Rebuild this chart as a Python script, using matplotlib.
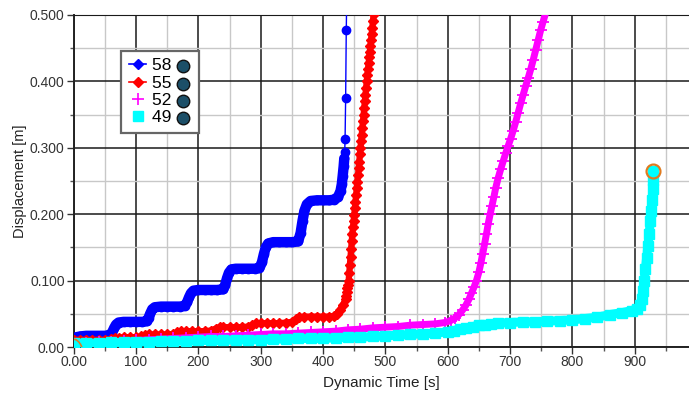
import matplotlib
matplotlib.use("Agg")
import matplotlib.pyplot as plt
from matplotlib.ticker import MultipleLocator, FuncFormatter

# ---------------- data ----------------
t58 = [0, 10, 20, 30, 40, 50, 58, 62, 65, 68, 72, 80, 90, 100, 110, 117, 120, 123, 126, 130,
       140, 150, 160, 170, 178, 182, 185, 188, 192, 200, 210, 220, 230, 240, 243, 246, 249, 253,
       260, 270, 280, 290, 298, 302, 305, 308, 312, 320, 330, 340, 350, 360, 364, 367, 370, 374,
       380, 390, 400, 410, 418, 424, 428, 430, 431.5, 433, 434, 434.7, 435.3, 436.2, 437.2, 438.5]
d58 = [0.014, 0.016, 0.017, 0.017, 0.017, 0.017, 0.018, 0.023, 0.029, 0.034, 0.037, 0.038, 0.038,
       0.038, 0.038, 0.039, 0.044, 0.051, 0.057, 0.060, 0.061, 0.061, 0.061, 0.061, 0.062, 0.068,
       0.075, 0.081, 0.085, 0.086, 0.086, 0.086, 0.086, 0.087, 0.094, 0.104, 0.112, 0.117, 0.118,
       0.118, 0.118, 0.118, 0.119, 0.128, 0.140, 0.150, 0.156, 0.158, 0.158, 0.158, 0.158, 0.159,
       0.172, 0.190, 0.205, 0.215, 0.220, 0.221, 0.221, 0.221, 0.222, 0.226, 0.235, 0.245, 0.258,
       0.272, 0.284, 0.293, 0.314, 0.375, 0.477, 0.560]

t55 = [0, 10, 20, 30, 40, 50, 60, 66, 72, 80, 90, 100, 108, 114, 120, 130, 140, 150, 160, 166,
       172, 180, 190, 200, 210, 220, 228, 234, 240, 250, 260, 270, 280, 286, 292, 300, 310, 320,
       330, 340, 350, 356, 362, 370, 380, 390, 400, 410, 418, 422, 427, 432, 436, 437, 438, 439,
       440, 441, 442, 443, 444, 445, 446, 447, 448, 449, 450, 451, 452, 453, 454, 455, 456, 457,
       458, 459, 460, 461, 462, 463, 464, 465, 466, 467, 468, 469, 470, 471, 472, 473, 474, 475,
       476, 477, 478, 479, 480, 481]
d55 = [0.011, 0.011, 0.011, 0.011, 0.011, 0.011, 0.012, 0.013, 0.014, 0.015, 0.015, 0.015, 0.016,
       0.018, 0.019, 0.019, 0.019, 0.019, 0.020, 0.022, 0.024, 0.024, 0.024, 0.024, 0.024, 0.025,
       0.028, 0.030, 0.030, 0.030, 0.030, 0.030, 0.031, 0.033, 0.036, 0.036, 0.036, 0.036, 0.036,
       0.037, 0.038, 0.042, 0.045, 0.046, 0.046, 0.046, 0.046, 0.046, 0.047, 0.050, 0.056, 0.064,
       0.072, 0.077, 0.083, 0.089, 0.094, 0.100, 0.112, 0.124, 0.136, 0.148, 0.160, 0.171, 0.181,
       0.190, 0.199, 0.209, 0.219, 0.229, 0.239, 0.249, 0.259, 0.269, 0.279, 0.290, 0.300, 0.310,
       0.320, 0.330, 0.340, 0.350, 0.360, 0.370, 0.380, 0.390, 0.400, 0.409, 0.418, 0.427, 0.436,
       0.445, 0.454, 0.463, 0.472, 0.481, 0.491, 0.501]

t52 = [0, 20, 40, 60, 80, 100, 120, 140, 160, 180, 200, 220, 240, 260, 280, 300, 320, 340, 360,
       380, 400, 420, 440, 460, 480, 500, 520, 540, 560, 580, 595, 605, 612, 618, 624, 629, 634,
       638, 642, 646, 650, 653, 656, 659, 662, 665, 668, 671, 674, 677, 681, 685, 689, 693, 697,
       701, 705, 709, 713, 717, 721, 725, 729, 733, 737, 741, 745, 749, 753, 757]
d52 = [0.005, 0.006, 0.007, 0.008, 0.009, 0.010, 0.011, 0.012, 0.013, 0.014, 0.015, 0.016, 0.016,
       0.017, 0.018, 0.019, 0.020, 0.020, 0.021, 0.022, 0.023, 0.024, 0.026, 0.027, 0.029, 0.030,
       0.031, 0.033, 0.034, 0.035, 0.037, 0.040, 0.044, 0.049, 0.056, 0.063, 0.072, 0.081, 0.090,
       0.100, 0.113, 0.126, 0.140, 0.155, 0.170, 0.186, 0.200, 0.213, 0.226, 0.240, 0.255, 0.268,
       0.280, 0.292, 0.303, 0.314, 0.326, 0.339, 0.353, 0.367, 0.380, 0.393, 0.405, 0.418, 0.432,
       0.447, 0.462, 0.477, 0.490, 0.503]

t49 = [0, 20, 40, 60, 80, 100, 120, 140, 160, 180, 200, 220, 240, 260, 280, 300, 320, 340, 360,
       380, 400, 420, 440, 460, 480, 500, 520, 540, 560, 580, 600, 610, 620, 630, 640, 650, 660,
       670, 680, 700, 720, 740, 760, 780, 800, 820, 840, 860, 880, 895, 903, 908, 911, 913, 915,
       917, 919, 921, 923, 925, 926.5, 928, 929, 929.5, 930]
d49 = [0.006, 0.006, 0.006, 0.007, 0.007, 0.008, 0.008, 0.009, 0.009, 0.009, 0.010, 0.010, 0.010,
       0.011, 0.011, 0.011, 0.012, 0.012, 0.013, 0.013, 0.013, 0.014, 0.015, 0.015, 0.016, 0.017,
       0.018, 0.019, 0.020, 0.021, 0.023, 0.025, 0.027, 0.029, 0.031, 0.033, 0.034, 0.035, 0.036,
       0.037, 0.038, 0.038, 0.039, 0.040, 0.041, 0.043, 0.045, 0.049, 0.052, 0.055, 0.058, 0.063,
       0.072, 0.085, 0.100, 0.117, 0.134, 0.152, 0.170, 0.190, 0.205, 0.222, 0.238, 0.252, 0.265]

t_orange = [0, 4, 8, 11, 13]
d_orange = [0.012, 0.011, 0.008, 0.004, 0.0]

end_t = [930]
end_d = [0.265]

labels = ["58", "55", "52", "49"]
xlabel = "Dynamic Time [s]"
ylabel = "Displacement [m]"

# ---------------- figure ----------------
plt.rcParams['font.family'] = ['Liberation Sans', 'DejaVu Sans']
fig = plt.figure(figsize=(6.89, 3.94), dpi=100)
ax = fig.add_axes([0.107, 0.119, 0.893, 0.843])

ax.set_axisbelow(True)
ax.xaxis.set_major_locator(MultipleLocator(100))
ax.xaxis.set_minor_locator(MultipleLocator(50))
ax.yaxis.set_major_locator(MultipleLocator(0.1))
ax.yaxis.set_minor_locator(MultipleLocator(0.05))
ax.grid(which='minor', color='#c8c8c8', lw=1.0)
ax.grid(which='major', color='#1a1a1a', lw=1.1)

blue, red, mag, cyan = '#0000ff', '#ff0000', '#ff00ff', '#00ffff'

# 58 (blue)
n_dense = sum(1 for v in d58 if v <= 0.29)
ax.plot(t58[:n_dense], d58[:n_dense], color=blue, lw=7.5, solid_capstyle='round',
        solid_joinstyle='round', zorder=3)
ax.plot(t58, d58, color=blue, lw=1.0, marker='o', ms=6, zorder=3)
# 55 (red)
ax.plot(t55, d55, color=red, lw=4.5, solid_joinstyle='round', zorder=4)
ax.plot(t55, d55, color=red, lw=1.0, marker='D', ms=5, ls='none', zorder=4)
# 52 (magenta)
ax.plot(t52, d52, color=mag, lw=5.0, solid_joinstyle='round', zorder=5)
ax.plot(t52, d52, color=mag, lw=0, marker='+', ms=8, mew=1.3, zorder=5)
# 49 (cyan)
ax.plot(t49, d49, color=cyan, lw=6.5, solid_joinstyle='miter', zorder=6)
ax.plot(t49, d49, color=cyan, lw=0, marker='s', ms=6.5, zorder=6)

ax.plot(t_orange, d_orange, color='#e07b20', lw=1.2, zorder=7)
ax.plot(end_t, end_d, marker='o', ms=10, mfc='none', mec='#e07b20', mew=1.6, ls='none', zorder=8)

ax.set_xlim(0, 987)
ax.set_ylim(0, 0.5)

def yfmt(v, p):
    return "0.00" if abs(v) < 1e-9 else f"{v:.3f}"

def xfmt(v, p):
    return "0.00" if abs(v) < 1e-9 else f"{int(round(v))}"

ax.yaxis.set_major_formatter(FuncFormatter(yfmt))
ax.xaxis.set_major_formatter(FuncFormatter(xfmt))
ax.tick_params(which='major', direction='out', length=5, width=1, colors='#333333',
               labelsize=10, labelcolor='#333333')
ax.tick_params(axis='y', which='major', pad=1.5)
ax.tick_params(axis='x', which='major', pad=1.0)
ax.tick_params(which='minor', direction='out', length=3, width=1, colors='#555555')
ax.spines['right'].set_visible(False)
ax.spines['top'].set_color('#1a1a1a')
for s in ['left', 'bottom']:
    ax.spines[s].set_color('#222222')
    ax.spines[s].set_linewidth(1.4)

ax.set_xlabel(xlabel, fontsize=11, color='#222222', labelpad=5)
ax.set_ylabel(ylabel, fontsize=10.5, color='#222222', labelpad=2)

# legend
h = [
    plt.Line2D([], [], color=blue, marker='D', ms=5.5, lw=1.2),
    plt.Line2D([], [], color=red, marker='D', ms=5.5, lw=1.2),
    plt.Line2D([], [], color=mag, marker='+', ms=9, mew=1.2, lw=0),
    plt.Line2D([], [], color=cyan, marker='s', ms=7, lw=0),
]
leg = ax.legend(h, [l + "    " for l in labels], loc='upper left',
                bbox_to_anchor=(0.077, 0.893), fontsize=12.5, labelspacing=0.12,
                handlelength=1.0, handletextpad=0.35, borderpad=0.45, borderaxespad=0,
                fancybox=False, framealpha=1, edgecolor='#666666')
leg.get_frame().set_linewidth(1.6)
leg.set_zorder(20)

fig.canvas.draw()
inv = ax.transAxes.inverted()
for txt, lab in zip(leg.get_texts(), labels):
    bb = txt.get_window_extent()
    x_disp = bb.x0 + 31
    y_disp = (bb.y0 + bb.y1) / 2 - 0.5
    xa, ya = inv.transform((x_disp, y_disp))
    ax.plot([xa], [ya], transform=ax.transAxes, marker='o', ms=9, mfc='#1c4f68',
            mec='#111111', mew=1.0, ls='none', zorder=30, clip_on=False)

fig.savefig("out.png", dpi=100)
